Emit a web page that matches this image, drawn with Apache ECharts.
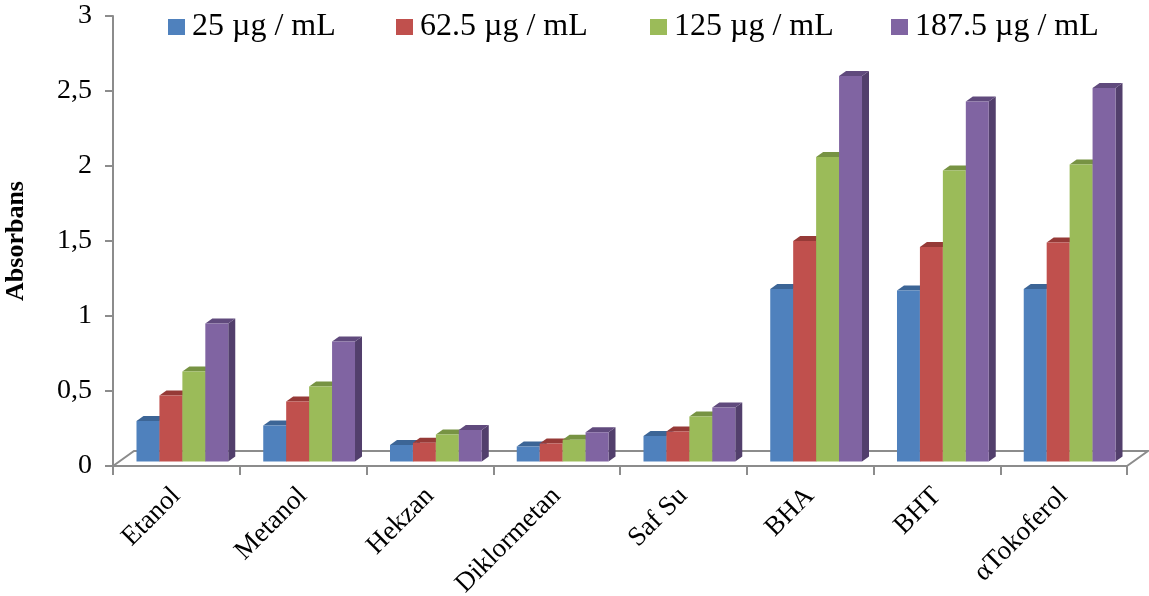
<!DOCTYPE html>
<html>
<head>
<meta charset="utf-8">
<script src="https://cdn.jsdelivr.net/npm/echarts@6/dist/echarts.min.js"></script>
<style>
  html, body { margin: 0; padding: 0; background: #ffffff; }
  #chart { width: 1149px; height: 596px; }
</style>
</head>
<body>
<div id="chart"></div>
<script>
// Absorbance of extracts and reference antioxidants at four concentrations
const categories = ['Etanol', 'Metanol', 'Hekzan', 'Diklormetan', 'Saf Su', 'BHA', 'BHT', 'αTokoferol'];
const seriesNames = ['25 µg / mL', '62.5 µg / mL', '125 µg / mL', '187.5 µg / mL'];
const conc25  = [0.27, 0.24, 0.11, 0.10, 0.17, 1.15, 1.14, 1.15];
const conc62  = [0.44, 0.40, 0.125, 0.12, 0.20, 1.47, 1.43, 1.46];
const conc125 = [0.60, 0.50, 0.18, 0.145, 0.30, 2.03, 1.94, 1.98];
const conc187 = [0.92, 0.80, 0.21, 0.195, 0.36, 2.57, 2.40, 2.49];
const yTicks = [0, 0.5, 1, 1.5, 2, 2.5, 3];
const yTickLabels = ['0', '0,5', '1', '1,5', '2', '2,5', '3'];

const seriesValues = [conc25, conc62, conc125, conc187];

// front / top / side shades for the pseudo-3D columns
const palette = [
  { front: '#4F81BD', top: '#3C6596', side: '#385D89' },
  { front: '#C0504D', top: '#963A37', side: '#8A3735' },
  { front: '#9BBB59', top: '#779343', side: '#6D873D' },
  { front: '#8064A2', top: '#604A7D', side: '#523F6C' }
];

const FONT = '"Liberation Serif", "Times New Roman", serif';
const AXIS_GRAY = '#8C8C8C';

// floor depth (oblique projection) and column depth
const FLOOR_DX = 21, FLOOR_DY = 15;
const COL_DX = 7, COL_DY = 5;
const COL_SHIFT_X = 6, COL_SHIFT_Y = 4.5;

function columnRenderer(s) {
  return function (params, api) {
    const ci = api.value(0);
    const v = api.value(1);
    const band = api.size([1, 0])[0];
    const base = api.coord([ci, 0]);
    const topPt = api.coord([ci, v]);
    const bw = band * 0.181;
    const x0 = base[0] - 2 * bw + COL_SHIFT_X + s * bw;
    const yb = base[1] - COL_SHIFT_Y;
    const yt = topPt[1] - COL_SHIFT_Y;
    const c = palette[s];
    return {
      type: 'group',
      children: [
        {
          type: 'polygon',
          shape: { points: [[x0 + bw, yt], [x0 + bw + COL_DX, yt - COL_DY], [x0 + bw + COL_DX, yb - COL_DY], [x0 + bw, yb]] },
          style: { fill: c.side }
        },
        {
          type: 'polygon',
          shape: { points: [[x0, yt], [x0 + COL_DX, yt - COL_DY], [x0 + bw + COL_DX, yt - COL_DY], [x0 + bw, yt]] },
          style: { fill: c.top }
        },
        {
          type: 'rect',
          shape: { x: x0, y: yt, width: bw, height: yb - yt },
          style: { fill: c.front }
        }
      ]
    };
  };
}

function floorRenderer(params) {
  const cs = params.coordSys;
  const xl = cs.x, xr = cs.x + cs.width, yf = cs.y + cs.height;
  const yBack = yf - FLOOR_DY;
  const lineStyle = { stroke: AXIS_GRAY, lineWidth: 2, fill: null };
  return {
    type: 'group',
    children: [
      { type: 'polyline', shape: { points: [[xl, yf], [xl + FLOOR_DX, yBack], [xr + FLOOR_DX, yBack], [xr, yf]] }, style: lineStyle }
    ]
  };
}

const legendLefts = [168, 396, 650, 891];

const series = [{
  type: 'custom',
  name: 'floor',
  silent: true,
  z: 1,
  renderItem: floorRenderer,
  data: [[0, 0]],
  encode: { x: 0, y: 1 }
}];

seriesNames.forEach(function (name, s) {
  series.push({
    type: 'custom',
    name: name,
    z: 2,
    itemStyle: { color: palette[s].front },
    renderItem: columnRenderer(s),
    encode: { x: 0, y: 1 },
    data: seriesValues[s].map(function (v, i) { return [i, v]; })
  });
});

const chart = echarts.init(document.getElementById('chart'), null, { renderer: 'canvas' });

chart.setOption({
  animation: false,
  backgroundColor: '#ffffff',
  textStyle: { fontFamily: FONT },
  legend: seriesNames.map(function (name, s) {
    return {
      data: [name],
      left: legendLefts[s],
      top: 11,
      padding: 0,
      itemGap: 0,
      itemWidth: 17,
      itemHeight: 16,
      icon: 'rect',
      selectedMode: false,
      textStyle: { fontFamily: FONT, fontSize: 32, color: '#000000', padding: [0, 0, 0, 2] }
    };
  }),
  grid: { left: 113, right: 22, top: 16, bottom: 130, containLabel: false, outerBoundsMode: 'none' },
  xAxis: {
    type: 'category',
    data: categories,
    boundaryGap: true,
    axisLine: { show: true, lineStyle: { color: AXIS_GRAY, width: 2 } },
    axisTick: { show: true, length: 9, lineStyle: { color: AXIS_GRAY, width: 2 } },
    axisLabel: { rotate: 45, margin: 26, fontFamily: FONT, fontSize: 27, color: '#000000' },
    splitLine: { show: false }
  },
  yAxis: {
    type: 'value',
    min: yTicks[0],
    max: yTicks[yTicks.length - 1],
    interval: yTicks[1] - yTicks[0],
    axisLine: { show: true, lineStyle: { color: AXIS_GRAY, width: 2 } },
    axisTick: { show: true, length: 8, lineStyle: { color: AXIS_GRAY, width: 2 } },
    splitLine: { show: false },
    axisLabel: {
      margin: 21,
      fontFamily: FONT,
      fontSize: 28,
      color: '#000000',
      formatter: function (v) {
        const i = yTicks.indexOf(v);
        return i >= 0 ? yTickLabels[i] : '';
      }
    },
    name: 'Absorbans',
    nameLocation: 'middle',
    nameRotate: 90,
    nameGap: 84,
    nameTextStyle: { fontFamily: FONT, fontSize: 26, fontWeight: 'bold', color: '#000000' }
  },
  series: series
});
</script>
</body>
</html>
